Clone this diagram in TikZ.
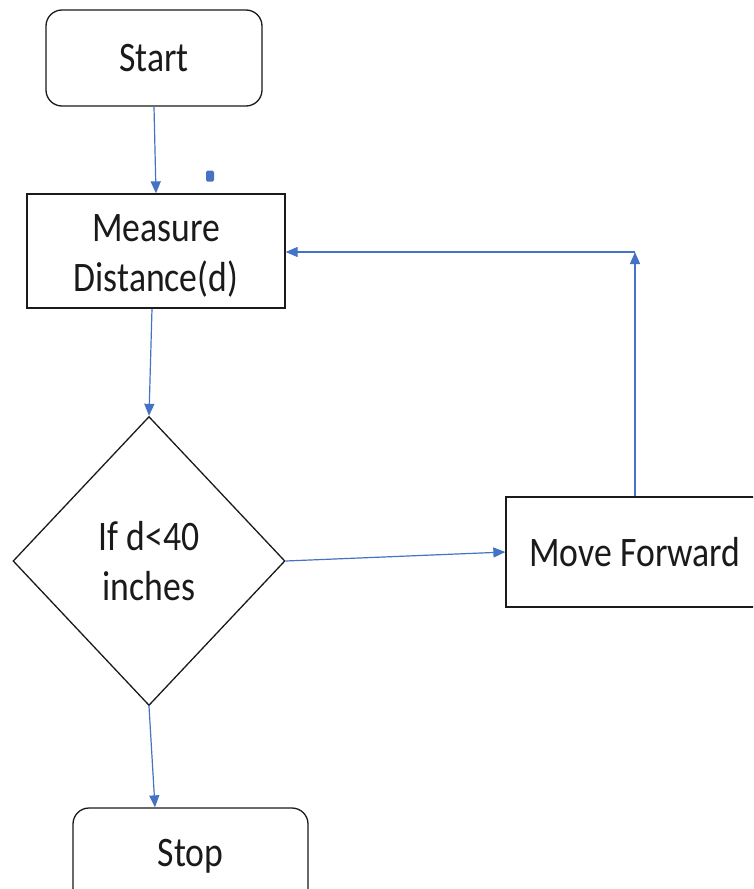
\documentclass[tikz,border=0pt]{standalone}
\usepackage{fontspec}
\setmainfont{Carlito}[FakeStretch=0.85]
\usetikzlibrary{shapes.geometric,arrows.meta}
\definecolor{arrblue}{HTML}{4472C4}
\definecolor{ink}{HTML}{1A1A1A}
\tikzset{
  txt/.style={align=center, text=ink, font=\fontsize{42pt}{50pt}\selectfont},
  box/.style={draw=ink, line width=1.3pt, fill=white, inner sep=0pt, txt},
  roundbox/.style={box, rounded corners=16pt},
  decision/.style={box, diamond},
  arr/.style={draw=arrblue, line width=1.2pt, -{Triangle[length=12pt,width=10pt]}},
}
\begin{document}
\begin{tikzpicture}[x=1pt,y=-1pt]
\clip (0,0) rectangle (753,889);
\node[roundbox, minimum width=216pt, minimum height=96pt] (start) at (154,58) {Start};
\node[box, minimum width=258pt, minimum height=114pt,
  label={[txt, yshift=-5pt]center:Measure\\Distance(d)}] (measure) at (156,251) {};
\node[decision, minimum width=272pt, minimum height=289pt] (dec) at (149,561) {If d<40\\inches};
\node[box, minimum width=258pt, minimum height=110pt] (move) at (635,552) {Move Forward};
\node[roundbox, minimum width=235pt, minimum height=96pt] (stop) at (190.5,856) {Stop};
\node[fill=arrblue, rounded corners=1.5pt, minimum width=8pt, minimum height=11pt, inner sep=0pt] (dot) at (210,176) {};
\coordinate (corner) at (635,252);
\draw[arr] (start.south) -- (measure.north);
\draw[arr] ([xshift=-4pt]measure.south) -- (dec.north);
\draw[arr] (dec.east) -- (move.west);
\draw[arr] (move.north) -- (corner);
\draw[arr] (corner) -- (measure.east |- corner);
\draw[arr] (dec.south) -- ([xshift=-35.5pt]stop.north);
\end{tikzpicture}
\end{document}
